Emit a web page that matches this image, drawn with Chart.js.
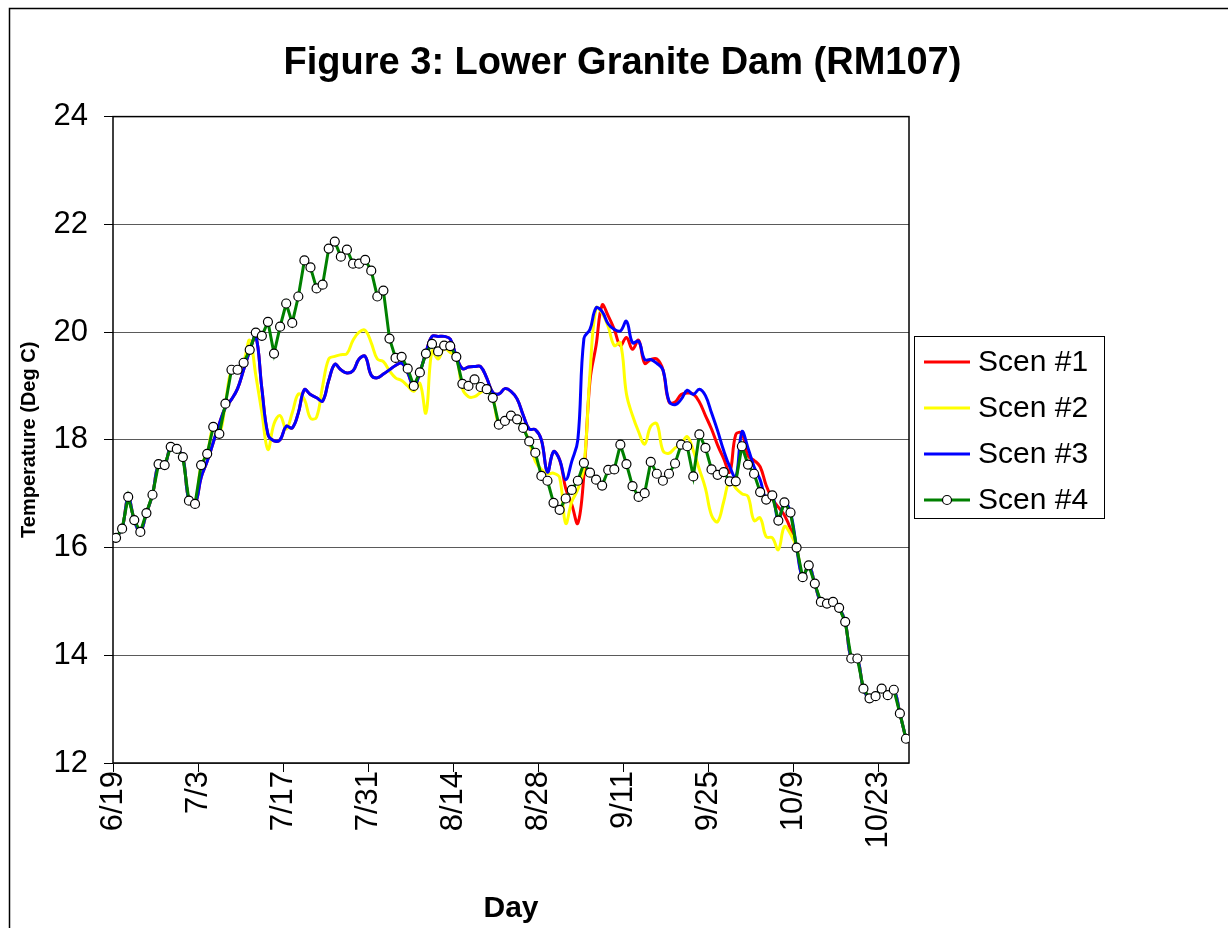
<!DOCTYPE html>
<html>
<head>
<meta charset="utf-8">
<script src="https://cdn.jsdelivr.net/npm/chart.js@4.4.0/dist/chart.umd.min.js"></script>
<style>
  html, body { margin: 0; padding: 0; background: #fff; }
  #wrap { width: 1228px; height: 928px; position: relative; }
</style>
</head>
<body>
<div id="wrap"><canvas id="tempChart"></canvas></div>
<script>
  // daily values starting 6/19
  const tickLabels = ['6/19', '7/3', '7/17', '7/31', '8/14', '8/28', '9/11', '9/25', '10/9', '10/23'];
  const tickStep = 14;
  const seriesNames = ['Scen #1', 'Scen #2', 'Scen #3', 'Scen #4'];

  const scen1 = [
    16.18, 16.35, 16.94, 16.51, 16.29, 16.64, 16.98, 17.55, 17.53, 17.87,
    17.83, 17.68, 16.87, 16.81, 17.30, 17.60, 17.95, 18.30, 18.60, 18.75,
    18.95, 19.30, 19.65, 19.92, 18.95, 18.10, 17.98, 18.00, 18.25, 18.22,
    18.50, 18.93, 18.84, 18.78, 18.72, 19.10, 19.40, 19.30, 19.24, 19.28,
    19.50, 19.55, 19.20, 19.15, 19.22, 19.30, 19.38, 19.42, 19.25, 18.98,
    19.25, 19.62, 19.92, 19.92, 19.92, 19.87, 19.55, 19.32, 19.35, 19.36,
    19.36, 19.15, 18.88, 18.85, 18.95, 18.90, 18.76, 18.46, 18.20, 18.19,
    18.00, 17.40, 17.78, 17.63, 17.10, 16.80, 16.45, 17.35, 19.10, 19.75,
    20.50, 20.30, 20.05, 19.75, 19.90, 19.68, 19.85, 19.42, 19.49, 19.50,
    19.30, 18.70, 18.70, 18.84, 18.87, 18.85, 18.70, 18.45, 18.20, 17.90,
    17.65, 17.40, 18.10, 18.12, 17.70, 17.62, 17.50, 17.15, 16.90, 16.75,
    16.60, 16.35, 16.00, 15.45, 15.67, 15.33, 14.99, 14.96, 14.99, 14.88,
    14.62, 13.94, 13.94, 13.38, 13.20, 13.24, 13.38, 13.26, 13.36, 12.92,
    12.45
  ];

  const scen2 = [
    16.18, 16.35, 16.94, 16.51, 16.29, 16.64, 16.98, 17.55, 17.53, 17.87,
    17.83, 17.68, 16.87, 16.81, 17.53, 17.74, 18.24, 18.11, 18.67, 19.30,
    19.30, 19.45, 19.85, 19.20, 18.50, 17.82, 18.30, 18.45, 18.20, 18.50,
    18.85, 18.75, 18.40, 18.42, 19.00, 19.50, 19.55, 19.58, 19.60, 19.85,
    20.00, 20.03, 19.80, 19.50, 19.45, 19.28, 19.15, 19.10, 19.00, 18.90,
    19.05, 18.50, 19.65, 19.50, 19.70, 19.62, 19.55, 18.95, 18.80, 18.80,
    18.88, 18.94, 18.78, 18.28, 18.35, 18.45, 18.38, 18.22, 17.97, 17.60,
    17.45, 17.37, 17.38, 17.30, 16.45, 16.85, 17.08, 17.50, 19.24, 20.45,
    20.35, 20.10, 19.75, 19.80, 18.85, 18.45, 18.15, 17.92, 18.25, 18.30,
    17.80, 17.75, 17.85, 17.92, 18.06, 17.80, 17.45, 17.10, 16.60, 16.48,
    16.85, 17.25, 17.10, 17.00, 16.95, 16.50, 16.55, 16.20, 16.18, 15.96,
    16.39, 16.25, 16.00, 15.45, 15.67, 15.33, 14.99, 14.96, 14.99, 14.88,
    14.62, 13.94, 13.94, 13.38, 13.20, 13.24, 13.38, 13.26, 13.36, 12.92,
    12.45
  ];

  const scen3 = [
    16.18, 16.35, 16.94, 16.51, 16.29, 16.64, 16.98, 17.55, 17.53, 17.87,
    17.83, 17.68, 16.87, 16.81, 17.30, 17.60, 17.95, 18.30, 18.60, 18.75,
    18.95, 19.30, 19.65, 19.92, 18.95, 18.10, 17.98, 18.00, 18.25, 18.22,
    18.50, 18.93, 18.84, 18.78, 18.72, 19.10, 19.40, 19.30, 19.24, 19.28,
    19.50, 19.55, 19.20, 19.15, 19.22, 19.30, 19.38, 19.42, 19.25, 18.98,
    19.25, 19.62, 19.92, 19.92, 19.92, 19.87, 19.55, 19.32, 19.35, 19.36,
    19.36, 19.15, 18.88, 18.85, 18.95, 18.90, 18.76, 18.46, 18.20, 18.19,
    18.00, 17.40, 17.78, 17.63, 17.26, 17.60, 18.00, 19.88, 20.05, 20.45,
    20.38, 20.15, 20.05, 20.02, 20.20, 19.80, 19.83, 19.49, 19.49, 19.42,
    19.30, 18.72, 18.65, 18.75, 18.92, 18.84, 18.94, 18.82, 18.50, 18.17,
    17.80, 17.50, 17.30, 18.15, 17.85, 17.50, 17.26, 16.90, 16.97, 16.50,
    16.84, 16.65, 16.00, 15.45, 15.67, 15.33, 14.99, 14.96, 14.99, 14.88,
    14.62, 13.94, 13.94, 13.38, 13.20, 13.24, 13.38, 13.26, 13.36, 12.92,
    12.45
  ];

  const scen4 = [
    16.18, 16.35, 16.94, 16.51, 16.29, 16.64, 16.98, 17.55, 17.53, 17.87,
    17.83, 17.68, 16.87, 16.81, 17.53, 17.74, 18.24, 18.11, 18.67, 19.30,
    19.30, 19.43, 19.67, 19.99, 19.93, 20.19, 19.60, 20.10, 20.53, 20.17,
    20.66, 21.33, 21.20, 20.81, 20.88, 21.55, 21.68, 21.40, 21.53, 21.27,
    21.27, 21.34, 21.14, 20.66, 20.77, 19.88, 19.52, 19.54, 19.32, 19.00,
    19.25, 19.60, 19.78, 19.64, 19.75, 19.74, 19.54, 19.04, 19.00, 19.12,
    18.98, 18.94, 18.78, 18.28, 18.35, 18.45, 18.38, 18.22, 17.97, 17.76,
    17.33, 17.24, 16.83, 16.70, 16.91, 17.07, 17.24, 17.57, 17.39, 17.26,
    17.15, 17.44, 17.45, 17.91, 17.55, 17.14, 16.94, 17.01, 17.59, 17.37,
    17.24, 17.37, 17.56, 17.91, 17.88, 17.32, 18.10, 17.85, 17.45, 17.35,
    17.40, 17.23, 17.23, 17.88, 17.54, 17.37, 17.03, 16.89, 16.97, 16.50,
    16.84, 16.65, 16.00, 15.45, 15.67, 15.33, 14.99, 14.96, 14.99, 14.88,
    14.62, 13.94, 13.94, 13.38, 13.20, 13.24, 13.38, 13.26, 13.36, 12.92,
    12.45
  ];

  const FONT = "'Liberation Sans', Arial, Helvetica, sans-serif";
  Chart.defaults.font.family = FONT;
  Chart.defaults.color = '#000';

  // each day sits in the middle of its slot on the date axis
  const toPoints = arr => arr.map((v, i) => ({ x: i + 0.5, y: v }));

  // white page, border of the chart object, plot frame
  const frame = {
    id: 'frame',
    beforeDraw(chart) {
      const ctx = chart.ctx;
      ctx.save();
      ctx.fillStyle = '#fff';
      ctx.fillRect(0, 0, chart.width, chart.height);
      ctx.strokeStyle = '#000';
      ctx.lineWidth = 1.5;
      ctx.beginPath();
      ctx.moveTo(9.5, chart.height);
      ctx.lineTo(9.5, 8.5);
      ctx.lineTo(chart.width, 8.5);
      ctx.stroke();
      ctx.restore();
    },
    beforeDatasetsDraw(chart) {
      const { ctx, chartArea: a } = chart;
      ctx.save();
      ctx.strokeStyle = '#000';
      ctx.lineWidth = 1.5;
      ctx.strokeRect(a.left, a.top, a.right - a.left, a.bottom - a.top);
      ctx.restore();
    }
  };

  // boxed legend like the spreadsheet one
  const boxLegend = {
    id: 'boxLegend',
    afterDraw(chart) {
      const { ctx, chartArea: a } = chart;
      const sets = chart.data.datasets;
      const x0 = a.right + 5, y0 = 336, w = 190, rowH = 46;
      const h = rowH * sets.length - 2;
      ctx.save();
      ctx.fillStyle = '#fff';
      ctx.fillRect(x0, y0, w, h);
      ctx.strokeStyle = '#000';
      ctx.lineWidth = 1;
      ctx.strokeRect(x0 + 0.5, y0 + 0.5, w, h);
      ctx.font = '30px ' + FONT;
      ctx.textBaseline = 'middle';
      ctx.textAlign = 'left';
      sets.forEach((ds, i) => {
        const y = y0 + 26 + i * rowH;
        ctx.strokeStyle = ds.borderColor;
        ctx.lineWidth = 3;
        ctx.beginPath();
        ctx.moveTo(x0 + 10, y);
        ctx.lineTo(x0 + 56, y);
        ctx.stroke();
        if (ds.pointRadius > 0) {
          ctx.beginPath();
          ctx.arc(x0 + 33, y, ds.pointRadius, 0, Math.PI * 2);
          ctx.fillStyle = ds.pointBackgroundColor;
          ctx.fill();
          ctx.lineWidth = ds.pointBorderWidth;
          ctx.strokeStyle = ds.pointBorderColor;
          ctx.stroke();
        }
        ctx.fillStyle = '#000';
        ctx.fillText(ds.label, x0 + 64, y + 1);
      });
      ctx.restore();
    }
  };

  const data = {
    datasets: [{
      label: seriesNames[0],
      data: toPoints(scen1),
      borderColor: '#ff0000',
      borderWidth: 3,
      pointRadius: 0,
      tension: 0.4,
      order: 4
    }, {
      label: seriesNames[1],
      data: toPoints(scen2),
      borderColor: '#ffff00',
      borderWidth: 3,
      pointRadius: 0,
      tension: 0.4,
      order: 3
    }, {
      label: seriesNames[2],
      data: toPoints(scen3),
      borderColor: '#0000ff',
      borderWidth: 3,
      pointRadius: 0,
      tension: 0.4,
      order: 2
    }, {
      label: seriesNames[3],
      data: toPoints(scen4),
      borderColor: '#008000',
      borderWidth: 3,
      pointRadius: 4.5,
      pointBackgroundColor: '#ffffff',
      pointBorderColor: '#000000',
      pointBorderWidth: 1.2,
      tension: 0,
      order: 1
    }]
  };

  const config = {
    type: 'line',
    data: data,
    options: {
      responsive: true,
      maintainAspectRatio: false,
      animation: false,
      layout: { padding: { left: 17, right: 0, top: 0, bottom: 0 } },
      plugins: {
        legend: { display: false },
        tooltip: { enabled: false },
        title: {
          display: true,
          text: 'Figure 3: Lower Granite Dam (RM107)',
          color: '#000',
          font: { size: 38, weight: 'bold' },
          padding: { top: 41, bottom: 30 }
        }
      },
      scales: {
        x: {
          type: 'linear',
          min: 0,
          max: scen4.length,
          afterBuildTicks: (scale) => {
            scale.ticks = tickLabels.map((_, k) => ({ value: k * tickStep }));
          },
          afterFit: (scale) => { scale.height = 165; },
          ticks: {
            autoSkip: false,
            minRotation: 90,
            maxRotation: 90,
            padding: -1,
            font: { size: 31 },
            callback: (v) => tickLabels[Math.round(v / tickStep)]
          },
          grid: { drawOnChartArea: false, drawTicks: true, tickLength: 9, tickColor: '#000' },
          border: { display: false },
          title: {
            display: true,
            text: 'Day',
            font: { size: 30, weight: 'bold' },
            padding: { top: 0, bottom: 1 }
          }
        },
        y: {
          min: 12,
          max: 24,
          afterFit: (scale) => { scale.width = 96; },
          ticks: { stepSize: 2, padding: 16, font: { size: 31 } },
          grid: { color: '#5a5a5a', lineWidth: 1, tickColor: '#000', tickLength: 9 },
          border: { display: false },
          title: {
            display: true,
            text: 'Temperature (Deg C)',
            font: { size: 20, weight: 'bold' },
            padding: { top: 0, bottom: 0 }
          }
        },
        legendSpace: {
          position: 'right',
          display: true,
          afterFit: (scale) => { scale.width = 319; },
          ticks: { display: false },
          grid: { display: false },
          border: { display: false }
        }
      }
    },
    plugins: [frame, boxLegend]
  };

  const tempChart = new Chart(document.getElementById('tempChart'), config);
</script>
</body>
</html>
